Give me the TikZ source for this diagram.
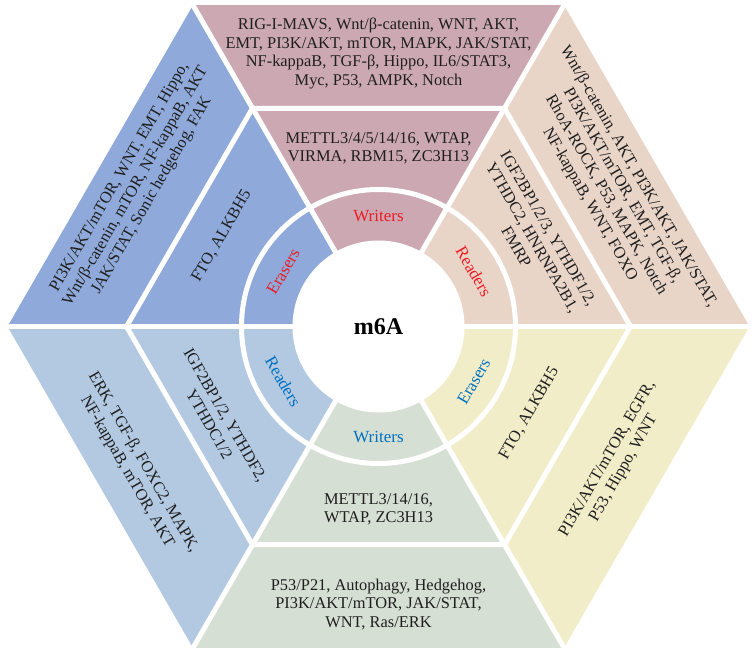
\documentclass[tikz,border=0pt]{standalone}
\usepackage{fontspec}
\setmainfont{Liberation Serif}
\definecolor{pinkS}{RGB}{204,168,178}
\definecolor{peachS}{RGB}{233,212,200}
\definecolor{yellowS}{RGB}{242,237,201}
\definecolor{greenS}{RGB}{214,223,211}
\definecolor{lblueS}{RGB}{179,201,226}
\definecolor{blueS}{RGB}{143,170,218}
\definecolor{redL}{RGB}{235,28,36}
\definecolor{blueL}{RGB}{0,112,192}
\begin{document}
\begin{tikzpicture}[x=1pt,y=1pt,
  txt/.style={font=\fontsize{16.4}{18.6}\selectfont, align=center, text=black!88, inner sep=0pt},
  lbl/.style={font=\fontsize{17}{18}\selectfont, inner sep=0pt},
  gap/.style={draw=white, line width=5pt}]
\useasboundingbox (0,0) rectangle (755,657);
\begin{scope}[shift={(378.5,330.5)}]
% sectors
\fill[blueS]   (0,0) -- (120:371) -- (180:371) -- cycle;
\fill[pinkS]   (0,0) -- (60:371) -- (120:371) -- cycle;
\fill[peachS]  (0,0) -- (0:371) -- (60:371) -- cycle;
\fill[yellowS] (0,0) -- (300:371) -- (360:371) -- cycle;
\fill[greenS]  (0,0) -- (240:371) -- (300:371) -- cycle;
\fill[lblueS]  (0,0) -- (180:371) -- (240:371) -- cycle;
% white separators
\foreach \a in {0,60,...,300} {\draw[gap] (0,0) -- (\a:376);}
\draw[gap] (0:252) -- (60:252) -- (120:252) -- (180:252) -- (240:252) -- (300:252) -- cycle;
\draw[gap] (0,0) circle (137);
\fill[white] (0,0) circle (86);
\node[font=\fontsize{24}{24}\selectfont\bfseries, inner sep=0pt] (m6a) at (0,0) {m6A};
% ring labels
\node[lbl, text=redL] (wTop) at (90:110) {Writers};
\node[lbl, text=redL, rotate=-60] (rUR) at (30:110) {Readers};
\node[lbl, text=redL, rotate=60] (eUL) at (150:110) {Erasers};
\node[lbl, text=blueL, rotate=-60] (rLL) at (210:110) {Readers};
\node[lbl, text=blueL] (wBot) at (270:110) {Writers};
\node[lbl, text=blueL, rotate=60] (eLR) at (330:110) {Erasers};
% top sector
\node[txt] (topOut) at (90:273) {RIG-I-MAVS, Wnt/β-catenin, WNT, AKT,\\EMT, PI3K/AKT, mTOR, MAPK, JAK/STAT,\\NF-kappaB, TGF-β, Hippo, IL6/STAT3,\\Myc, P53, AMPK, Notch};
\node[txt] (topMid) at (90:178) {METTL3/4/5/14/16, WTAP,\\VIRMA, RBM15, ZC3H13};
% upper right
\node[txt, rotate=-60] (urOut) at (30:272) {Wnt/β-catenin, AKT, PI3K/AKT, JAK/STAT,\\PI3K/AKT/mTOR, EMT, TGF-β,\\RhoA-ROCK, P53, MAPK, Notch\\NF-kappaB, WNT, FOXO};
\node[txt, rotate=-60] (urMid) at (30:178) {IGF2BP1/2/3, YTHDF1/2,\\YTHDC2, HNRNPA2B1,\\FMRP};
% upper left
\node[txt, rotate=60] (ulOut) at (150:280) {PI3K/AKT/mTOR, WNT, EMT, Hippo,\\Wnt/β-catenin, mTOR, NF-kappaB, AKT\\JAK/STAT, Sonic hedgehog, FAK};
\node[txt, rotate=60] (ulMid) at (150:181) {FTO, ALKBH5};
% lower left
\node[txt, rotate=-60] (llOut) at (210:281) {ERK, TGF-β, FOXC2, MAPK,\\NF-kappaB, mTOR, AKT};
\node[txt, rotate=-60] (llMid) at (210:186) {IGF2BP1/2, YTHDF2,\\YTHDC1/2};
% bottom
\node[txt] (botMid) at (270:183) {METTL3/14/16,\\WTAP, ZC3H13};
\node[txt] (botOut) at (270:278) {P53/P21, Autophagy, Hedgehog,\\PI3K/AKT/mTOR, JAK/STAT,\\WNT, Ras/ERK};
% lower right
\node[txt, rotate=60] (lrMid) at (330:174) {FTO, ALKBH5};
\node[txt, rotate=60] (lrOut) at (330:274) {PI3K/AKT/mTOR, EGFR,\\P53, Hippo, WNT};
\end{scope}
\end{tikzpicture}
\end{document}
